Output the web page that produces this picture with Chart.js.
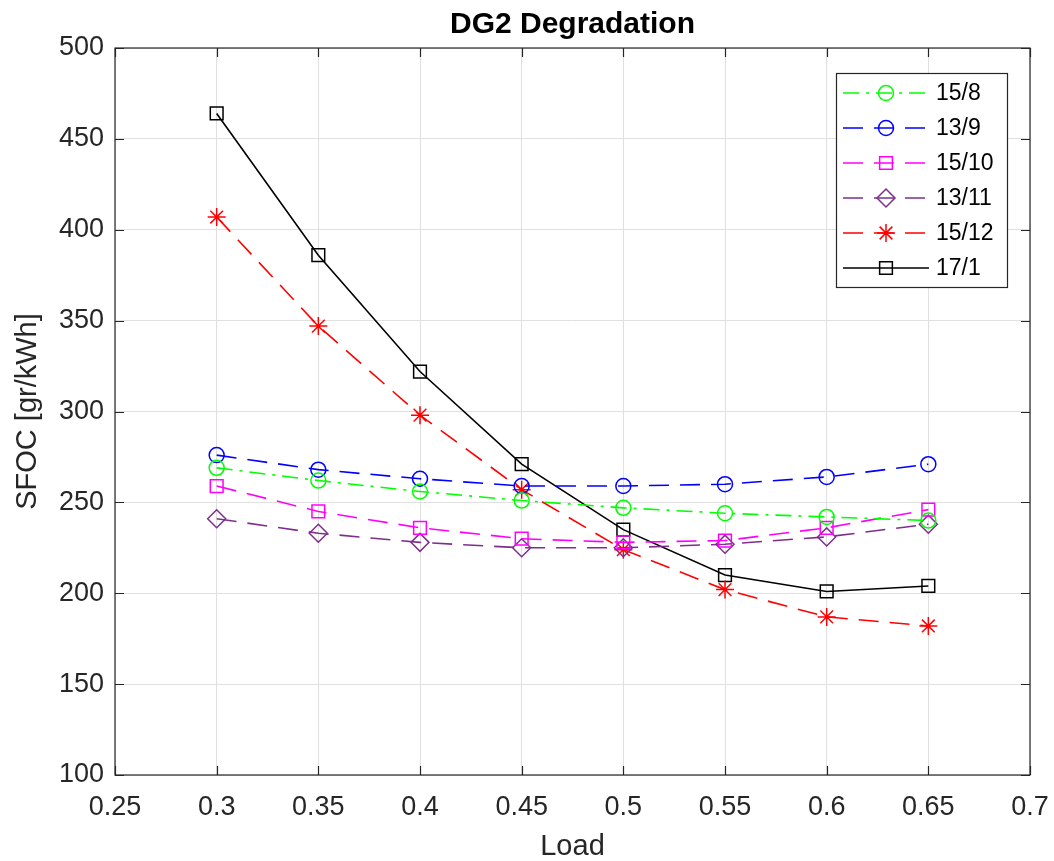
<!DOCTYPE html>
<html>
<head>
<meta charset="utf-8">
<script src="https://cdn.jsdelivr.net/npm/chart.js@4.4.1/dist/chart.umd.min.js"></script>
<style>
  html, body { margin: 0; padding: 0; background: #fff; }
  #wrap { width: 1054px; height: 861px; position: relative; }
</style>
</head>
<body>
<div id="wrap"><canvas id="chart"></canvas></div>
<script>
const loads = [0.3, 0.35, 0.4, 0.45, 0.5, 0.55, 0.6, 0.65];

const sfoc15_8  = [269, 262, 256, 251, 247, 244, 242, 240];
const sfoc13_9  = [276, 268, 263, 259, 259, 260, 264, 271];
const sfoc15_10 = [259, 245, 236, 230, 228, 229, 236, 246];
const sfoc13_11 = [241, 233, 228, 225, 225, 227, 231, 238];
const sfoc15_12 = [407, 347, 298, 257, 224, 202, 187, 182];
const sfoc17_1  = [464, 386, 322, 271, 235, 210, 201, 204];

const seriesNames = ['15/8', '13/9', '15/10', '13/11', '15/12', '17/1'];

const FONT = "'Liberation Sans', Arial, Helvetica, sans-serif";
const axisColor = '#262626';

function pts(vals) {
    return loads.map((x, i) => ({ x: x, y: vals[i] }));
}

function series(label, vals, color, dash, style, radius) {
    return {
        label: label,
        data: pts(vals),
        borderColor: color,
        borderWidth: 1.6,
        borderDash: dash,
        pointStyle: style,
        pointRadius: radius,
        pointHoverRadius: radius,
        pointBorderColor: color,
        pointBackgroundColor: 'rgba(0,0,0,0)',
        pointBorderWidth: 1.5,
        tension: 0,
        fill: false
    };
}

// MATLAB-like box with inward ticks
const boxPlugin = {
    id: 'matlabBox',
    afterDatasetsDraw(chart) {
        const { ctx, chartArea: a, scales } = chart;
        ctx.save();
        ctx.strokeStyle = axisColor;
        ctx.lineWidth = 1.2;
        ctx.setLineDash([]);
        ctx.strokeRect(a.left, a.top, a.right - a.left, a.bottom - a.top);
        const len = 9;
        ctx.beginPath();
        scales.x.ticks.forEach(t => {
            const px = Math.round(scales.x.getPixelForValue(t.value)) + 0.5;
            ctx.moveTo(px, a.bottom); ctx.lineTo(px, a.bottom - len);
            ctx.moveTo(px, a.top); ctx.lineTo(px, a.top + len);
        });
        scales.y.ticks.forEach(t => {
            const py = Math.round(scales.y.getPixelForValue(t.value)) + 0.5;
            ctx.moveTo(a.left, py); ctx.lineTo(a.left + len, py);
            ctx.moveTo(a.right, py); ctx.lineTo(a.right - len, py);
        });
        ctx.stroke();
        ctx.restore();
    }
};

// legend box inside the plot, top right
const legendPlugin = {
    id: 'insideLegend',
    afterDraw(chart) {
        const { ctx, chartArea: a } = chart;
        const w = 171, rowH = 35;
        const n = chart.data.datasets.length;
        const h = n * rowH + 4;
        const x0 = a.right - 23 - w;
        const y0 = a.top + 25;
        ctx.save();
        ctx.fillStyle = '#fff';
        ctx.fillRect(x0, y0, w, h);
        ctx.strokeStyle = axisColor;
        ctx.lineWidth = 1.2;
        ctx.setLineDash([]);
        ctx.strokeRect(x0 + 0.5, y0 + 0.5, w, h);
        chart.data.datasets.forEach((ds, i) => {
            const cy = y0 + 20 + i * rowH;
            const lx1 = x0 + 7, lx2 = x0 + 93, mx = x0 + 50;
            ctx.strokeStyle = ds.borderColor;
            ctx.lineWidth = ds.borderWidth;
            ctx.setLineDash(ds.borderDash || []);
            ctx.beginPath();
            ctx.moveTo(lx1, cy); ctx.lineTo(lx2, cy);
            ctx.stroke();
            ctx.setLineDash([]);
            ctx.fillStyle = 'rgba(0,0,0,0)';
            ctx.lineWidth = ds.pointBorderWidth;
            Chart.helpers.drawPoint(ctx, {
                pointStyle: ds.pointStyle,
                radius: ds.pointRadius,
                rotation: 0,
                borderWidth: ds.pointBorderWidth
            }, mx, cy);
            ctx.fillStyle = '#000';
            ctx.font = '23px ' + FONT;
            ctx.textAlign = 'left';
            ctx.textBaseline = 'middle';
            ctx.fillText(ds.label, x0 + 100, cy + 1);
        });
        ctx.restore();
    }
};

new Chart(document.getElementById('chart'), {
    type: 'line',
    data: {
        datasets: [
            series(seriesNames[0], sfoc15_8,  '#00ff00', [16, 7, 3, 7], 'circle', 7.5),
            series(seriesNames[1], sfoc13_9,  '#0000ff', [20, 11], 'circle', 7.5),
            series(seriesNames[2], sfoc15_10, '#ff00ff', [20, 11], 'rect', 9),
            series(seriesNames[3], sfoc13_11, '#7e2f8e', [20, 11], 'rectRot', 9),
            series(seriesNames[4], sfoc15_12, '#ff0000', [20, 11], 'star', 9),
            series(seriesNames[5], sfoc17_1,  '#000000', [], 'rect', 9)
        ]
    },
    options: {
        responsive: true,
        maintainAspectRatio: false,
        animation: false,
        layout: { padding: { left: 0, right: 24, top: 0, bottom: 0 } },
        plugins: {
            legend: { display: false },
            tooltip: { enabled: false },
            title: {
                display: true,
                fullSize: false,
                text: 'DG2 Degradation',
                color: '#000',
                font: { family: FONT, size: 30, weight: 'bold' },
                padding: { top: 7, bottom: 5 }
            }
        },
        scales: {
            x: {
                type: 'linear',
                min: 0.25,
                max: 0.7,
                afterFit(scale) {
                    scale.height = 86;
                    scale.paddingLeft = 0;
                    scale.paddingRight = 0;
                },
                grid: { color: '#e0e0e0', lineWidth: 1, drawTicks: false },
                border: { display: false },
                ticks: {
                    stepSize: 0.05,
                    autoSkip: false,
                    maxRotation: 0,
                    padding: 16,
                    color: axisColor,
                    font: { family: FONT, size: 27 },
                    callback: v => String(Number(v.toFixed(2)))
                },
                title: {
                    display: true,
                    text: 'Load',
                    color: axisColor,
                    font: { family: FONT, size: 29, lineHeight: 1 },
                    padding: { top: 0, bottom: 0 }
                }
            },
            y: {
                min: 100,
                max: 500,
                afterFit(scale) { scale.width = 115; },
                grid: { color: '#e0e0e0', lineWidth: 1, drawTicks: false },
                border: { display: false },
                ticks: {
                    stepSize: 50,
                    padding: 11,
                    color: axisColor,
                    font: { family: FONT, size: 27 }
                },
                title: {
                    display: true,
                    text: 'SFOC [gr/kWh]',
                    color: axisColor,
                    font: { family: FONT, size: 29 },
                    padding: { top: 11, bottom: 0 }
                }
            }
        }
    },
    plugins: [boxPlugin, legendPlugin]
});
</script>
</body>
</html>
